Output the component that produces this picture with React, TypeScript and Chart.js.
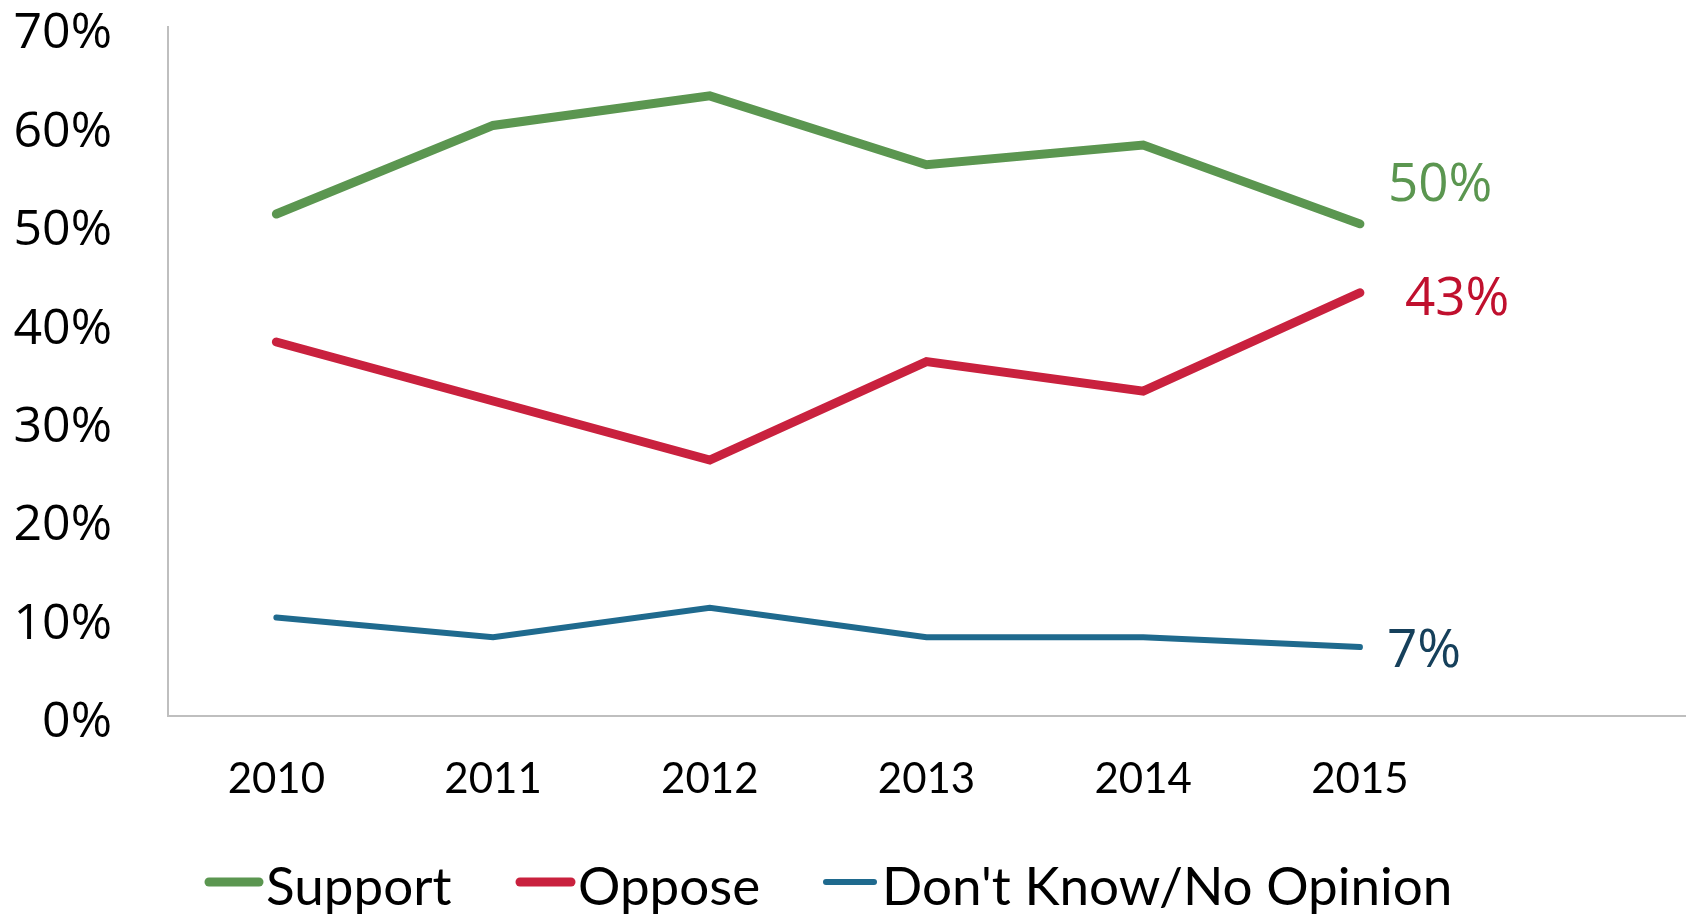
import React, { useEffect, useRef } from 'react';
import { Chart, registerables } from 'chart.js';

Chart.register(...registerables);

// ---- data ----
const years = ['2010', '2011', '2012', '2013', '2014', '2015', ''];
const seriesNames = ['Support', 'Oppose', "Don't Know/No Opinion"];
const supportValues = [51, 60, 63, 56, 58, 50];
const opposeValues = [38, 32, 26, 36, 33, 43];
const noOpinionValues = [10, 8, 11, 8, 8, 7];
const yTickValues = [0, 10, 20, 30, 40, 50, 60, 70];

// ---- styles ----
const lineColors = ['#5B9650', '#C9213E', '#1F6A8E'];
const labelColors = ['#5B9650', '#C0102E', '#16405B'];
const lineWidths = [9, 9, 6];
const endLabelOffsets = [
  [28, -38],
  [45, 7],
  [27, 5],
];
const legendLayout = [
  { x1: 209, x2: 259, tx: 266 },
  { x1: 520, x2: 571, tx: 578 },
  { x1: 826, x2: 874, tx: 882 },
];

const endLabelPlugin = {
  id: 'endLabels',
  afterDatasetsDraw(chart: any) {
    const ctx = chart.ctx;
    ctx.save();
    ctx.font = '53px "Open Sans"';
    ctx.textAlign = 'left';
    ctx.textBaseline = 'middle';
    chart.data.datasets.forEach((ds: any, i: number) => {
      const meta = chart.getDatasetMeta(i);
      const last = ds.data.length - 1;
      const pt = meta.data[last];
      if (!pt) return;
      ctx.fillStyle = labelColors[i];
      ctx.fillText(ds.data[last] + '%', pt.x + endLabelOffsets[i][0], pt.y + endLabelOffsets[i][1]);
    });
    ctx.restore();
  },
};

const legendPlugin = {
  id: 'bottomLegend',
  afterDraw(chart: any) {
    const ctx = chart.ctx;
    ctx.save();
    const cy = 882;
    chart.data.datasets.forEach((ds: any, i: number) => {
      const L = legendLayout[i];
      ctx.beginPath();
      ctx.strokeStyle = ds.borderColor;
      ctx.lineWidth = ds.borderWidth;
      ctx.lineCap = 'round';
      ctx.moveTo(L.x1, cy);
      ctx.lineTo(L.x2, cy);
      ctx.stroke();
      ctx.fillStyle = '#000000';
      ctx.font = '53px Lato';
      ctx.textAlign = 'left';
      ctx.textBaseline = 'alphabetic';
      ctx.fillText(ds.label, L.tx, 905);
    });
    ctx.restore();
  },
};

export default function App() {
  const canvasRef = useRef<HTMLCanvasElement | null>(null);

  useEffect(() => {
    const canvas = canvasRef.current;
    if (!canvas) return;
    const allValues = [supportValues, opposeValues, noOpinionValues];
    const chart = new Chart(canvas, {
      type: 'line',
      data: {
        labels: years,
        datasets: allValues.map((vals, i) => ({
          label: seriesNames[i],
          data: vals,
          borderColor: lineColors[i],
          backgroundColor: lineColors[i],
          borderWidth: lineWidths[i],
          borderCapStyle: 'round',
          borderJoinStyle: 'miter',
          pointRadius: 0,
          pointHoverRadius: 0,
          tension: 0,
          fill: false,
        })),
      },
      options: {
        responsive: false,
        animation: false,
        devicePixelRatio: 1,
        layout: { padding: { left: 0, right: 9, top: 27, bottom: 0 } },
        plugins: {
          legend: { display: false },
          tooltip: { enabled: false },
          title: { display: false },
        },
        scales: {
          x: {
            type: 'category',
            offset: true,
            grid: { display: false },
            border: { display: true, color: '#BFBFBF', width: 2 },
            ticks: {
              color: '#000000',
              font: { family: 'Lato', size: 42, lineHeight: 1.2 },
              padding: 30,
              maxRotation: 0,
              autoSkip: false,
            },
            afterFit: (scale: any) => {
              scale.height = 199;
              scale.paddingLeft = 0;
              scale.paddingRight = 0;
            },
          },
          y: {
            min: 0,
            max: 70,
            grid: { display: false },
            border: { display: true, color: '#BFBFBF', width: 2 },
            afterBuildTicks: (scale: any) => {
              scale.ticks = yTickValues.map((v) => ({ value: v }));
            },
            ticks: {
              color: '#000000',
              font: { family: '"Open Sans"', size: 50, lineHeight: 1 },
              padding: 48,
              labelOffset: 7,
              callback: (v: any) => v + '%',
            },
            afterFit: (scale: any) => {
              scale.width = 168;
              scale.paddingTop = 0;
              scale.paddingBottom = 0;
            },
          },
        },
      },
      plugins: [endLabelPlugin, legendPlugin],
    } as any);
    return () => chart.destroy();
  }, []);

  return (
    <div style={{ position: 'fixed', left: 0, top: 0, width: 1694, height: 915, background: '#ffffff' }}>
      <canvas ref={canvasRef} width={1694} height={915} style={{ display: 'block' }} />
    </div>
  );
}
